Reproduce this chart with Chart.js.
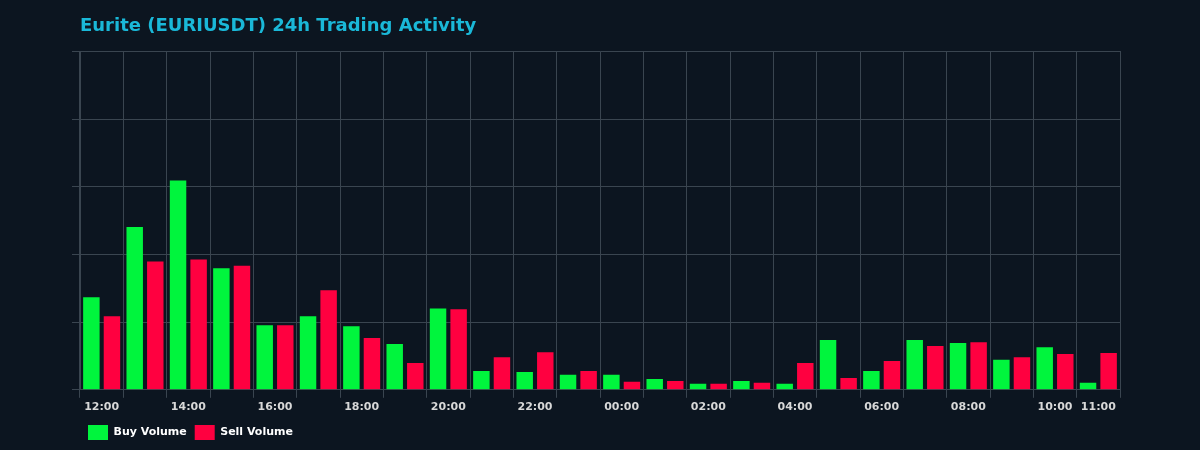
<!DOCTYPE html>
<html><head><meta charset="utf-8">
<script src="https://cdn.jsdelivr.net/npm/chart.js@4"></script>
<style>html,body{margin:0;background:#0c1520;}#w{width:1200px;height:450px;}</style>
</head><body><div id="w"><canvas id="c"></canvas></div>
<script>
const hours = ['12:00','13:00','14:00','15:00','16:00','17:00','18:00','19:00','20:00','21:00','22:00','23:00','00:00','01:00','02:00','03:00','04:00','05:00','06:00','07:00','08:00','09:00','10:00','11:00'];
const buyVolume = [7390,13000,16700,9700,5160,5880,5080,3650,6500,1500,1430,1200,1200,870,480,700,480,3970,1500,3970,3730,2400,3400,560];
const sellVolume = [5880,10250,10400,9900,5160,7940,4130,2140,6430,2600,3000,1500,640,700,480,560,2140,950,2300,3500,3800,2600,2860,2940];
const leftTicks = [0,5400,10800,16200,21600,27000];
const rightMax = 31320;

const tickFont = {family:'DejaVu Sans', size:11, weight:'bold'};
new Chart(document.getElementById('c'), {
  type:'bar',
  data:{labels:hours, datasets:[
    {label:'Buy Volume', data:buyVolume, backgroundColor:'#00f53d', barPercentage:0.8, categoryPercentage:0.95, yAxisID:'y'},
    {label:'Sell Volume', data:sellVolume, backgroundColor:'#ff0040', barPercentage:0.8, categoryPercentage:0.95, yAxisID:'y'}
  ]},
  options:{
    responsive:true, maintainAspectRatio:false, animation:false,
    layout:{padding:{left:80,right:80,top:10,bottom:0}},
    plugins:{
      title:{display:true, text:'Eurite (EURIUSDT) 24h Trading Activity', align:'start', color:'#1ab8d8',
        font:{family:'DejaVu Sans', size:18, weight:'bold'}, padding:{top:6,bottom:14}},
      legend:{position:'bottom', align:'start', labels:{color:'#ffffff', boxWidth:20, boxHeight:15, padding:8, font:{family:'DejaVu Sans', size:11, weight:'bold'}}},
      tooltip:{enabled:false}
    },
    scales:{
      x:{grid:{color:'#3a4550', offset:true}, border:{color:'#3a4550'},
        ticks:{color:'#d8d8d8', font:tickFont, autoSkip:false, maxRotation:0,
          callback:function(v,i){return (i%2===0||i===hours.length-1)?hours[i]:'';}}},
      y:{position:'left', min:0, max:27000, grid:{color:'#3a4550'}, border:{color:'#3a4550'},
        afterFit:a=>{a.width=0;},
        afterBuildTicks:a=>{a.ticks=leftTicks.map(v=>({value:v}));},
        ticks:{color:'#d8d8d8', font:tickFont, callback:v=>v===0?'0.0000':(v/1000).toFixed(1)+'K'}},
      y1:{position:'right', min:0, max:rightMax, grid:{display:false}, border:{color:'#3a4550'},
        afterFit:a=>{a.width=0;},
        afterBuildTicks:a=>{a.ticks=[0,1,2,3,4,5].map(k=>({value:k*rightMax/5}));},
        ticks:{color:'#d8d8d8', font:tickFont, callback:v=>v===0?'$0':'$'+(v/1000).toFixed(1)+'K'}}
    }
  }
});
</script></body></html>
